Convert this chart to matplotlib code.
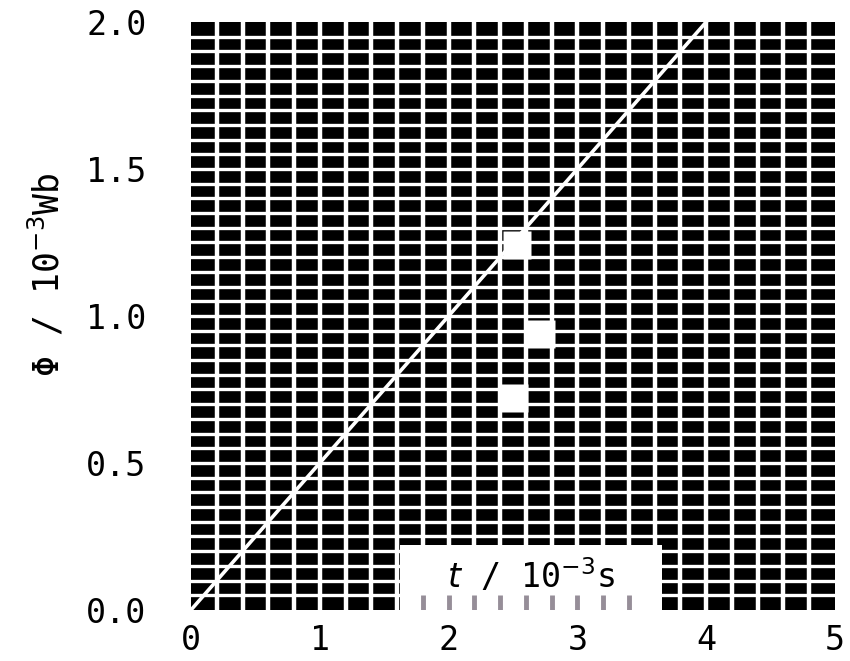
import numpy as np
import matplotlib.pyplot as plt
from matplotlib.patches import Rectangle

# ── Data ──────────────────────────────────────────────────────────
t = [0, 1, 2, 3, 4]            # 10^-3 s
phi = [0, 0.5, 1.0, 1.5, 2.0]  # 10^-3 Wb

# white square blobs scattered on the grid
blob_t = [2.53, 2.72, 2.51]
blob_phi = [1.24, 0.94, 0.72]

xticks = [0, 1, 2, 3, 4, 5]
yticks = [0.0, 0.5, 1.0, 1.5, 2.0]
label_ticks = [1.8, 2.0, 2.2, 2.4, 2.6, 2.8, 3.0, 3.2, 3.4]

font = 'DejaVu Sans Mono'
gray = '#968e98'

# ── Figure ────────────────────────────────────────────────────────
fig = plt.figure(figsize=(8.5, 6.61), dpi=100)
ax = fig.add_axes([0.2247, 0.0772, 0.7576, 0.8895])
ax.set_facecolor('black')
ax.set_xlim(0, 5)
ax.set_ylim(0, 2)

# grid of white lines
for gx in np.arange(0.2, 5.0, 0.2):
    ax.axvline(gx, color='white', lw=3.2, zorder=1)
for gy in np.arange(0.05, 2.0, 0.05):
    ax.axhline(gy, color='white', lw=2.4, zorder=1)

# line and blobs
ax.plot(t, phi, color='white', lw=2.6, zorder=2)
ax.plot(blob_t, blob_phi, 's', color='white', ms=20, mec='none', zorder=2)

# x label inside a white box
ax.add_patch(Rectangle((0.3245, 0.0), 0.4065, 0.11, transform=ax.transAxes,
                       facecolor='white', edgecolor='none', zorder=3))
ax.text(0.528, 0.058, '$t$ / 10$^{-3}$s', transform=ax.transAxes,
        ha='center', va='center', fontsize=24, family=font, zorder=4)
ax.vlines(label_ticks, 0, 0.025, transform=ax.get_xaxis_transform(),
          color=gray, lw=3.5, zorder=4)

ax.set_xticks(xticks)
ax.set_xticklabels([str(v) for v in xticks], family=font, fontsize=24)
ax.set_yticks(yticks)
ax.set_yticklabels([f'{v:.1f}' for v in yticks], family=font, fontsize=24)
ax.tick_params(length=0, pad=10)
ax.tick_params(axis='y', pad=32)
for s in ax.spines.values():
    s.set_visible(False)

fig.text(0.055, 0.585, 'Φ / 10$^{-3}$Wb', rotation=90, ha='center', va='center',
         fontsize=25, family=font)

plt.savefig('out.png', dpi=100)
plt.close()
